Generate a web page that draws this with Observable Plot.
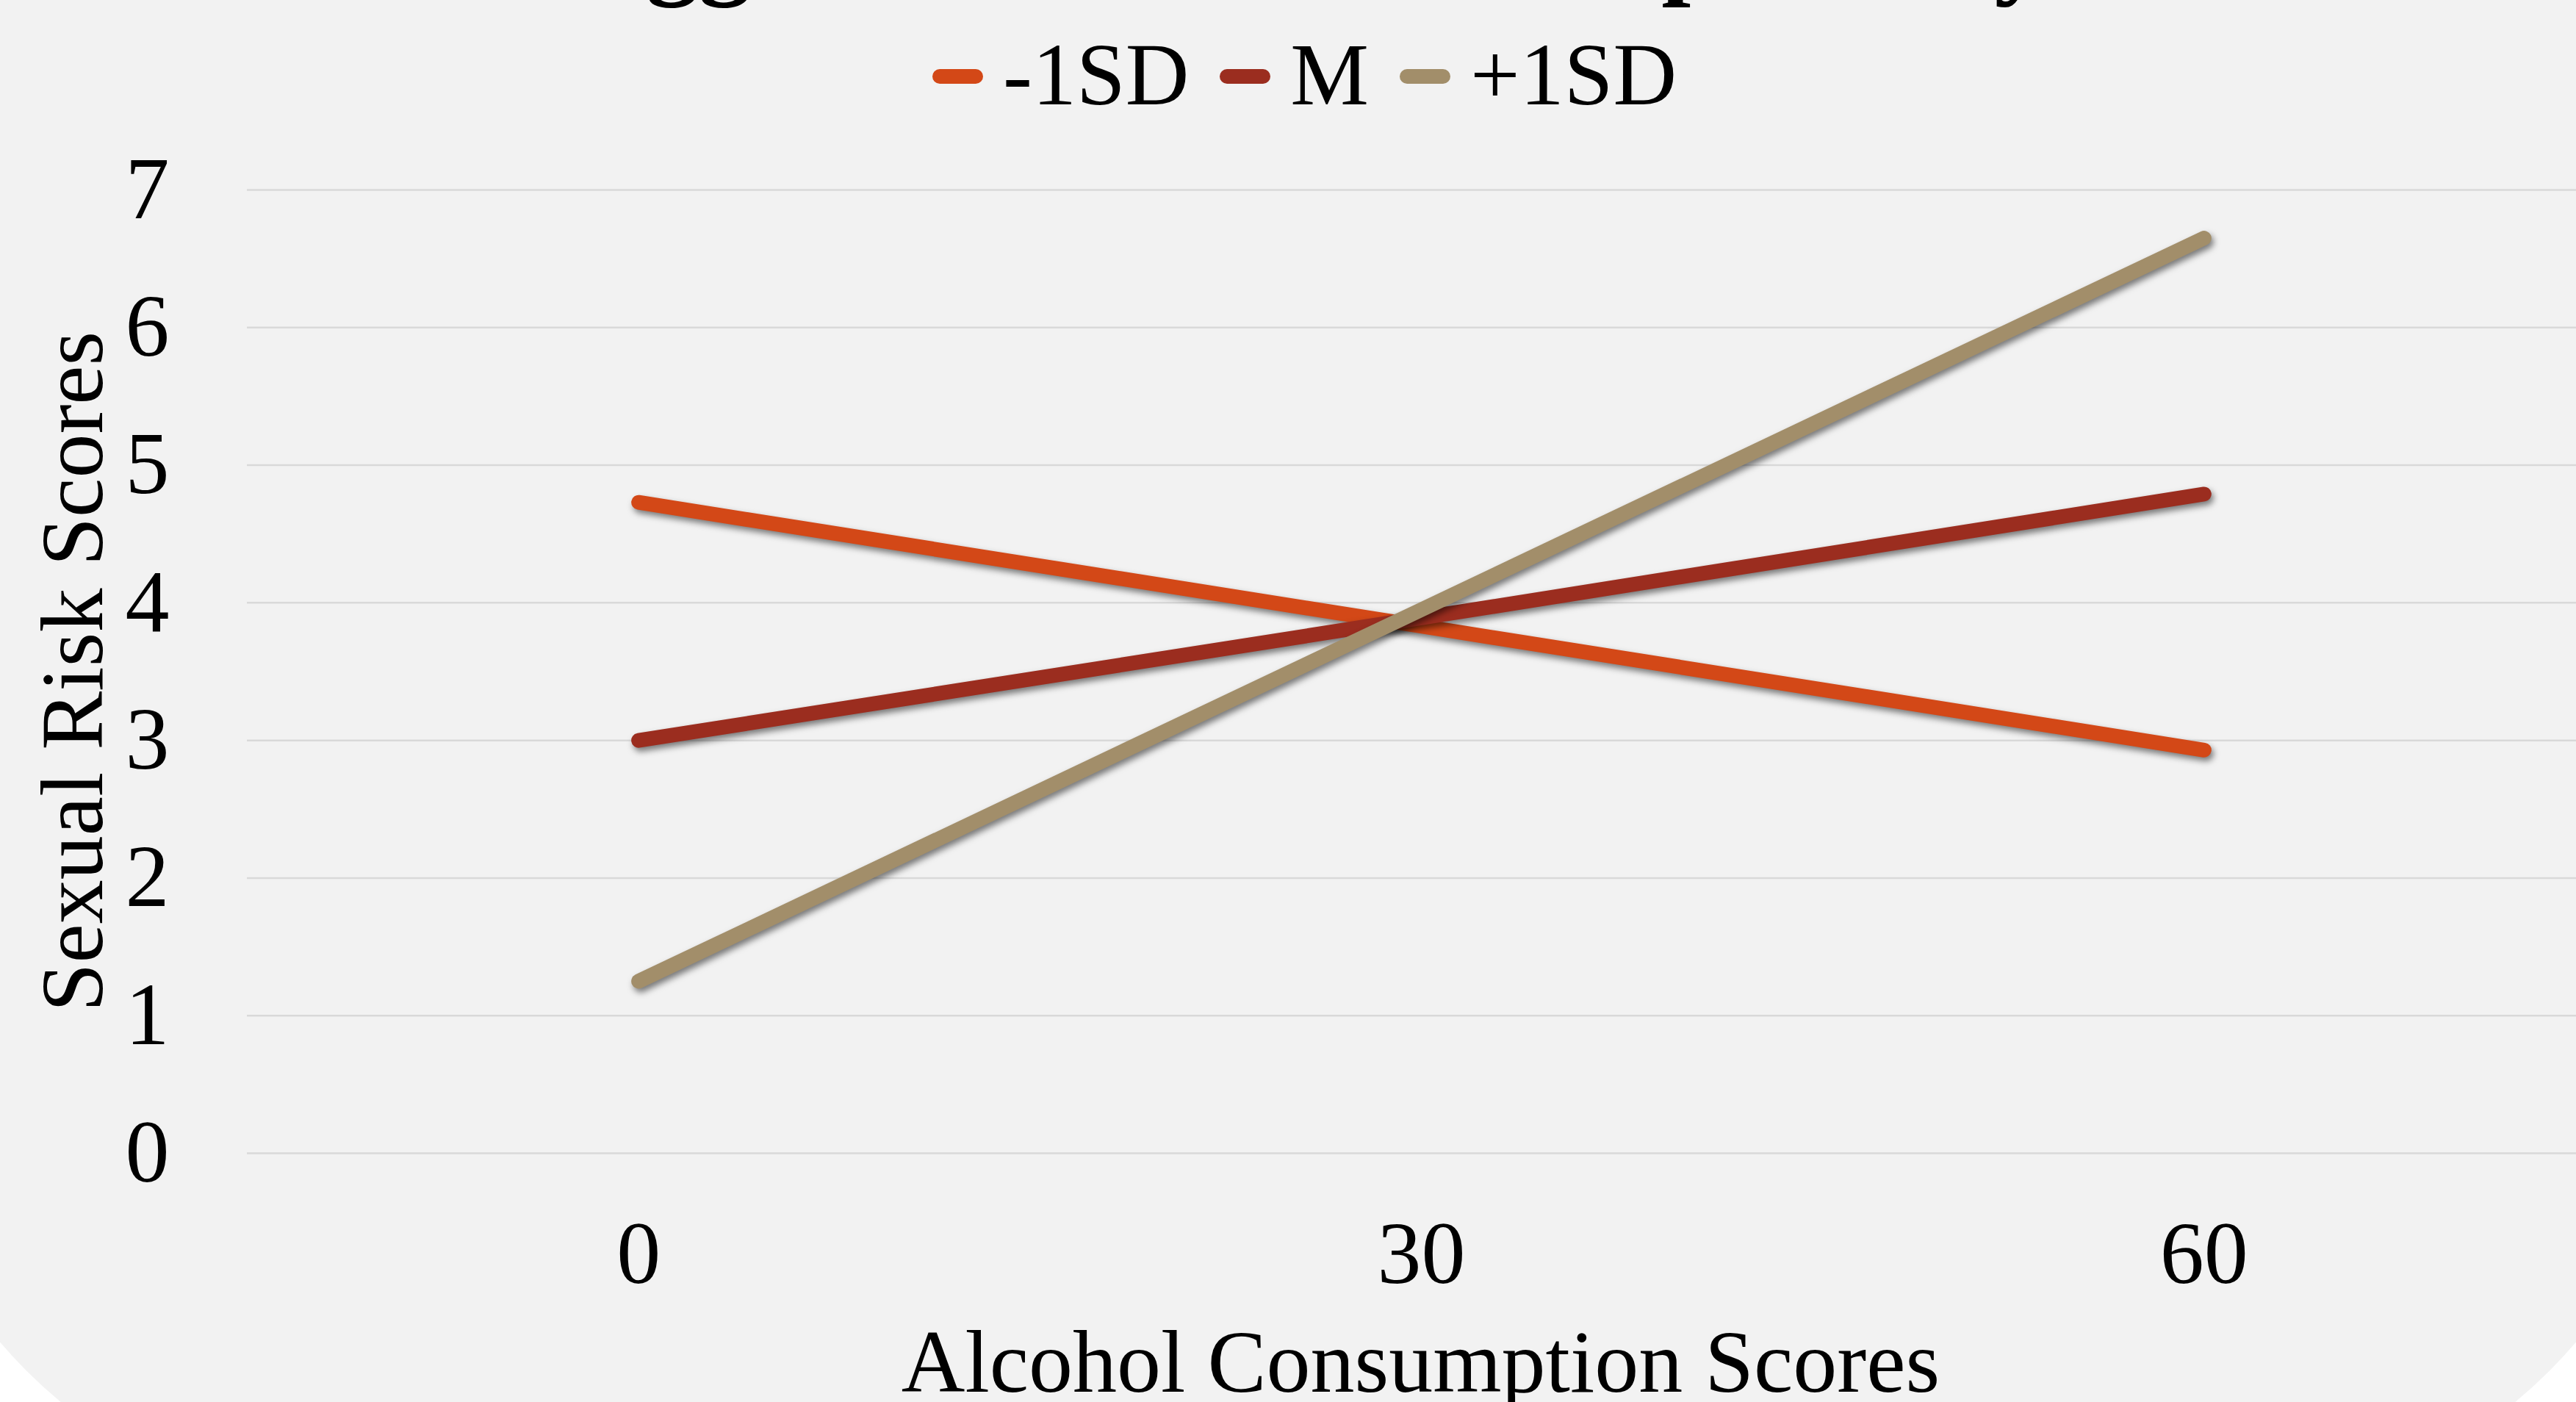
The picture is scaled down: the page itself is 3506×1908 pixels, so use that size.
<!DOCTYPE html>
<html>
<head>
<meta charset="utf-8">
<script src="https://cdn.jsdelivr.net/npm/d3@7"></script>
<script src="https://cdn.jsdelivr.net/npm/@observablehq/plot@0.6"></script>
<style>
  html, body { margin: 0; padding: 0; background: #ffffff; }
  #wrap { position: relative; width: 3506px; height: 1908px; overflow: hidden; font-family: "Liberation Serif", "Times New Roman", serif; color: #000; }
  #bg { position: absolute; left: -160px; top: -1200px; width: 3826px; height: 3262px; border-radius: 670px; background: #f2f2f2; }
  #title { position: absolute; left: 0; top: -140px; width: 3506px; text-align: center; font-weight: bold; font-size: 143px; line-height: 143px; white-space: nowrap; }
  #legend { position: absolute; left: 1269px; top: 41.5px; height: 120px; display: flex; align-items: center; font-size: 120px; line-height: 120px; white-space: nowrap; }
  .item { display: flex; align-items: center; margin-right: 42px; }
  .sw { width: 69px; height: 20px; border-radius: 10px; margin-right: 27px; margin-top: 5px; }
  #chart { position: absolute; left: 0; top: 180px; }
  #chart svg g[aria-label="line"] path { filter: drop-shadow(3px 5px 4px rgba(0,0,0,0.5)); }
</style>
</head>
<body>
<div id="wrap">
  <div id="bg"></div>
  <div id="title">Suggested Interaction Impulsivity</div>
  <div id="legend"></div>
  <div id="chart"></div>
</div>
<script>
// ---- data ----
const xValues = [0, 30, 60];
const seriesNames = ["-1SD", "M", "+1SD"];
const minus1SD = [4.73, 3.83, 2.93];
const meanVals = [3.00, 3.89, 4.79];
const plus1SD = [1.25, 3.95, 6.65];
const seriesColors = ["#D34817", "#9B2D1F", "#A28E6A"];
const yTicks = [0, 1, 2, 3, 4, 5, 6, 7];
const xTicks = [0, 30, 60];
const xTitle = "Alcohol Consumption Scores";
const yTitle = "Sexual Risk Scores";

const seriesValues = [minus1SD, meanVals, plus1SD];
const data = [];
seriesNames.forEach((s, i) => {
  xValues.forEach((x, j) => data.push({series: s, x, y: seriesValues[i][j]}));
});

// legend
const legend = document.getElementById("legend");
seriesNames.forEach((s, i) => {
  const item = document.createElement("div");
  item.className = "item";
  const sw = document.createElement("div");
  sw.className = "sw";
  sw.style.background = seriesColors[i];
  const t = document.createElement("span");
  t.textContent = s;
  item.appendChild(sw);
  item.appendChild(t);
  legend.appendChild(item);
});

const chart = Plot.plot({
  width: 3506,
  height: 1728,
  marginTop: 78,
  marginBottom: 339,
  marginLeft: 336,
  marginRight: 0,
  style: {background: "transparent", fontFamily: "'Liberation Serif', 'Times New Roman', serif", fontSize: "120px", color: "#000", overflow: "visible"},
  x: {type: "linear", domain: [-15, 75], range: [336, 3532]},
  y: {domain: [0, 7]},
  color: {domain: seriesNames, range: seriesColors},
  marks: [
    Plot.gridY(yTicks, {stroke: "#d9d9d9", strokeWidth: 2.5, strokeOpacity: 1}),
    Plot.axisY(yTicks, {tickSize: 0, tickPadding: 106, fontSize: 120, tickFormat: d => String(d), label: null}),
    Plot.axisX(xTicks, {tickSize: 0, tickPadding: 91, fontSize: 120, tickFormat: d => String(d), label: null}),
    Plot.text([yTitle], {frameAnchor: "left", rotate: -90, dx: -236, textAnchor: "middle", lineAnchor: "middle", fontSize: 120, fill: "#000"}),
    Plot.text([xTitle], {frameAnchor: "bottom", dx: 12, dy: 286, textAnchor: "middle", lineAnchor: "middle", fontSize: 120, fill: "#000"}),
    Plot.line(data, {x: "x", y: "y", z: "series", stroke: "series", strokeWidth: 20, strokeLinecap: "round", strokeLinejoin: "round"})
  ]
});
document.getElementById("chart").appendChild(chart);
</script>
</body>
</html>
